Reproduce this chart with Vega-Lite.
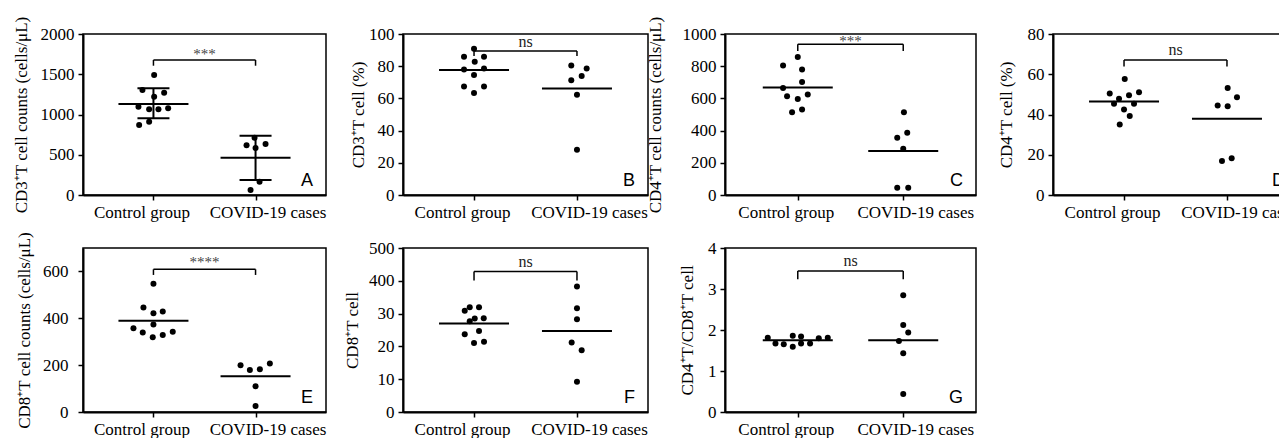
{
  "$schema": "https://vega.github.io/schema/vega-lite/v6.json",
  "padding": {"left": 11, "top": 15, "right": 0, "bottom": 0},
  "background": "white",
  "bounds": "flush",
  "columns": 4,
  "spacing": {"row": 53, "column": 77},
  "config": {
    "view": {"stroke": "black", "strokeWidth": 1.5},
    "axis": {"labelFont": "Liberation Serif", "labelFontSize": 17, "titleFont": "Liberation Serif", "titleFontSize": 17, "titleFontWeight": "normal", "labelColor": "black", "titleColor": "black", "domainColor": "black", "tickColor": "black", "domainWidth": 2, "tickWidth": 1.5, "tickSize": 5, "grid": false, "labelPadding": 4, "labelOverlap": false},
    "axisX": {"labelAngle": 0, "labelPadding": 4, "title": null},
    "axisY": {"format": "d", "labelOverlap": false, "tickCount": 12}
  },
  "datasets": {
    "pts": [
      {"p":"A","g":"Control group","v":1491,"j":0.7},{"p":"A","g":"Control group","v":1304,"j":-11},{"p":"A","g":"Control group","v":1271,"j":10.7},{"p":"A","g":"Control group","v":1221,"j":0.7},{"p":"A","g":"Control group","v":1097,"j":-15},{"p":"A","g":"Control group","v":1064,"j":-4.3},{"p":"A","g":"Control group","v":1064,"j":5},{"p":"A","g":"Control group","v":1077,"j":14.7},{"p":"A","g":"Control group","v":870,"j":-14.3},{"p":"A","g":"Control group","v":911,"j":-4.3},
      {"p":"A","g":"COVID-19 cases","v":617,"j":-9},{"p":"A","g":"COVID-19 cases","v":712,"j":-1},{"p":"A","g":"COVID-19 cases","v":584,"j":0},{"p":"A","g":"COVID-19 cases","v":634,"j":10},{"p":"A","g":"COVID-19 cases","v":166,"j":4},{"p":"A","g":"COVID-19 cases","v":62,"j":-5},
      {"p":"B","g":"Control group","v":90.8,"j":0},{"p":"B","g":"Control group","v":85.8,"j":-10},{"p":"B","g":"Control group","v":85.8,"j":10},{"p":"B","g":"Control group","v":82.8,"j":0.7},{"p":"B","g":"Control group","v":78.0,"j":-10},{"p":"B","g":"Control group","v":78.6,"j":10},{"p":"B","g":"Control group","v":74.5,"j":0},{"p":"B","g":"Control group","v":67.4,"j":-10},{"p":"B","g":"Control group","v":67.4,"j":10},{"p":"B","g":"Control group","v":63.4,"j":0},
      {"p":"B","g":"COVID-19 cases","v":80.5,"j":-5.7},{"p":"B","g":"COVID-19 cases","v":78.6,"j":9.7},{"p":"B","g":"COVID-19 cases","v":71.3,"j":-5.7},{"p":"B","g":"COVID-19 cases","v":73.9,"j":4.7},{"p":"B","g":"COVID-19 cases","v":62.2,"j":0},{"p":"B","g":"COVID-19 cases","v":28.1,"j":0},
      {"p":"C","g":"Control group","v":857,"j":0},{"p":"C","g":"Control group","v":804,"j":-14.7},{"p":"C","g":"Control group","v":779,"j":4.3},{"p":"C","g":"Control group","v":702,"j":4.3},{"p":"C","g":"Control group","v":665,"j":-14.7},{"p":"C","g":"Control group","v":614,"j":-10.7},{"p":"C","g":"Control group","v":597,"j":0},{"p":"C","g":"Control group","v":624,"j":10},{"p":"C","g":"Control group","v":514,"j":-5.7},{"p":"C","g":"Control group","v":531,"j":4.3},
      {"p":"C","g":"COVID-19 cases","v":514,"j":0.7},{"p":"C","g":"COVID-19 cases","v":386,"j":4},{"p":"C","g":"COVID-19 cases","v":355,"j":-6},{"p":"C","g":"COVID-19 cases","v":287,"j":0},{"p":"C","g":"COVID-19 cases","v":45,"j":-6},{"p":"C","g":"COVID-19 cases","v":45,"j":5},
      {"p":"D","g":"Control group","v":57.7,"j":0.7},{"p":"D","g":"Control group","v":50.4,"j":-14.3},{"p":"D","g":"Control group","v":51.1,"j":15},{"p":"D","g":"Control group","v":49.6,"j":5},{"p":"D","g":"Control group","v":47.8,"j":-5},{"p":"D","g":"Control group","v":45.3,"j":-10},{"p":"D","g":"Control group","v":45.3,"j":10},{"p":"D","g":"Control group","v":42.5,"j":0},{"p":"D","g":"Control group","v":39.2,"j":5.7},{"p":"D","g":"Control group","v":35.0,"j":-4.3},
      {"p":"D","g":"COVID-19 cases","v":53.2,"j":0.7},{"p":"D","g":"COVID-19 cases","v":48.6,"j":10},{"p":"D","g":"COVID-19 cases","v":44.5,"j":-9.3},{"p":"D","g":"COVID-19 cases","v":44.1,"j":0.7},{"p":"D","g":"COVID-19 cases","v":16.9,"j":-5},{"p":"D","g":"COVID-19 cases","v":18.2,"j":4.7},
      {"p":"E","g":"Control group","v":547,"j":0},{"p":"E","g":"Control group","v":446,"j":-10},{"p":"E","g":"Control group","v":421,"j":0},{"p":"E","g":"Control group","v":429,"j":9.3},{"p":"E","g":"Control group","v":374,"j":0},{"p":"E","g":"Control group","v":357,"j":-20},{"p":"E","g":"Control group","v":339,"j":-10.7},{"p":"E","g":"Control group","v":319,"j":-0.7},{"p":"E","g":"Control group","v":329,"j":9.3},{"p":"E","g":"Control group","v":343,"j":19.3},
      {"p":"E","g":"COVID-19 cases","v":200,"j":-15},{"p":"E","g":"COVID-19 cases","v":179,"j":-5.7},{"p":"E","g":"COVID-19 cases","v":183,"j":4.3},{"p":"E","g":"COVID-19 cases","v":207,"j":14.3},{"p":"E","g":"COVID-19 cases","v":110,"j":0},{"p":"E","g":"COVID-19 cases","v":26,"j":0},
      {"p":"F","g":"Control group","v":30.9,"j":-9.3},{"p":"F","g":"Control group","v":31.9,"j":-4.3},{"p":"F","g":"Control group","v":31.9,"j":5},{"p":"F","g":"Control group","v":28.5,"j":0.7},{"p":"F","g":"Control group","v":28.6,"j":9.7},{"p":"F","g":"Control group","v":27.7,"j":-4.3},{"p":"F","g":"Control group","v":24.7,"j":5},{"p":"F","g":"Control group","v":23.7,"j":-9.3},{"p":"F","g":"Control group","v":21.0,"j":0},{"p":"F","g":"Control group","v":21.4,"j":10},
      {"p":"F","g":"COVID-19 cases","v":38.3,"j":0},{"p":"F","g":"COVID-19 cases","v":31.6,"j":0},{"p":"F","g":"COVID-19 cases","v":28.3,"j":0},{"p":"F","g":"COVID-19 cases","v":21.2,"j":-5.3},{"p":"F","g":"COVID-19 cases","v":18.8,"j":4.7},{"p":"F","g":"COVID-19 cases","v":9.2,"j":0},
      {"p":"G","g":"Control group","v":1.81,"j":-30},{"p":"G","g":"Control group","v":1.67,"j":-22.3},{"p":"G","g":"Control group","v":1.65,"j":-14},{"p":"G","g":"Control group","v":1.86,"j":-5},{"p":"G","g":"Control group","v":1.59,"j":-5},{"p":"G","g":"Control group","v":1.84,"j":3.3},{"p":"G","g":"Control group","v":1.67,"j":3.3},{"p":"G","g":"Control group","v":1.67,"j":12.3},{"p":"G","g":"Control group","v":1.80,"j":21},{"p":"G","g":"Control group","v":1.81,"j":30},
      {"p":"G","g":"COVID-19 cases","v":2.85,"j":0},{"p":"G","g":"COVID-19 cases","v":2.12,"j":0},{"p":"G","g":"COVID-19 cases","v":1.94,"j":5},{"p":"G","g":"COVID-19 cases","v":1.73,"j":-4.3},{"p":"G","g":"COVID-19 cases","v":1.43,"j":0},{"p":"G","g":"COVID-19 cases","v":0.44,"j":0}
    ],
    "sum": [
      {"p":"A","g":"Control group","m":1130,"lo":952,"hi":1325},{"p":"A","g":"COVID-19 cases","m":464,"lo":186,"hi":737},
      {"p":"B","g":"Control group","m":77.6},{"p":"B","g":"COVID-19 cases","m":66.1},
      {"p":"C","g":"Control group","m":667},{"p":"C","g":"COVID-19 cases","m":273},
      {"p":"D","g":"Control group","m":46.4},{"p":"D","g":"COVID-19 cases","m":37.9},
      {"p":"E","g":"Control group","m":390},{"p":"E","g":"COVID-19 cases","m":153},
      {"p":"F","g":"Control group","m":27.0},{"p":"F","g":"COVID-19 cases","m":24.7},
      {"p":"G","g":"Control group","m":1.75},{"p":"G","g":"COVID-19 cases","m":1.75}
    ],
    "br": [
      {"p":"A","top":1677,"leg":1606,"lab":"***","ly":1690,"let":"A"},
      {"p":"B","top":89.5,"leg":86.4,"lab":"ns","ly":91.7,"let":"B"},
      {"p":"C","top":936,"leg":894,"lab":"***","ly":925,"let":"C"},
      {"p":"D","top":67.1,"leg":63.9,"lab":"ns","ly":69.6,"let":"D"},
      {"p":"E","top":609,"leg":585,"lab":"****","ly":619,"let":"E"},
      {"p":"F","top":42.8,"leg":40.1,"lab":"ns","ly":44.2,"let":"F"},
      {"p":"G","top":3.44,"leg":3.24,"lab":"ns","ly":3.55,"let":"G"}
    ]
  },
  "concat": [
    {
      "width": 243, "height": 161,
      "layer": [
        {"data": {"name": "pts"}, "transform": [{"filter": "datum.p==='A'"}], "mark": {"type": "circle", "size": 36, "color": "black", "opacity": 1},
         "encoding": {
           "x": {"field": "g", "type": "nominal", "scale": {"type": "point", "domain": ["Control group", "COVID-19 cases"], "padding": 0.69}, "axis": {"title": null, "labelOffset": {"condition": {"test": "datum.value==='Control group'", "value": -12}, "value": 12}}},
           "xOffset": {"field": "j", "type": "quantitative", "scale": {"domain": [-20, 20], "range": [-20, 20]}},
           "y": {"field": "v", "type": "quantitative", "scale": {"domain": [0, 2000], "nice": false}, "axis": {"title": "CD3⁺T cell counts (cells/μL)", "values": [0, 500, 1000, 1500, 2000], "tickCount": 12, "titlePadding": 9.5}}}},
        {"data": {"name": "sum"}, "transform": [{"filter": "datum.p==='A'"}], "mark": {"type": "tick", "size": 70, "thickness": 2, "color": "black", "opacity": 1}, "encoding": {"x": {"field": "g", "type": "nominal"}, "y": {"field": "m", "type": "quantitative"}}},
        {"data": {"name": "sum"}, "transform": [{"filter": "datum.p==='A'"}], "mark": {"type": "rule", "strokeWidth": 2, "color": "black"}, "encoding": {"x": {"field": "g", "type": "nominal"}, "y": {"field": "lo", "type": "quantitative"}, "y2": {"field": "hi"}}},
        {"data": {"name": "sum"}, "transform": [{"filter": "datum.p==='A'"}], "mark": {"type": "tick", "size": 32, "thickness": 2, "color": "black", "opacity": 1}, "encoding": {"x": {"field": "g", "type": "nominal"}, "y": {"field": "hi", "type": "quantitative"}}},
        {"data": {"name": "sum"}, "transform": [{"filter": "datum.p==='A'"}], "mark": {"type": "tick", "size": 32, "thickness": 2, "color": "black", "opacity": 1}, "encoding": {"x": {"field": "g", "type": "nominal"}, "y": {"field": "lo", "type": "quantitative"}}},
        {"data": {"name": "br"}, "transform": [{"filter": "datum.p==='A'"}], "mark": {"type": "rule", "strokeWidth": 1.5, "color": "black"}, "encoding": {"x": {"datum": "Control group"}, "x2": {"datum": "COVID-19 cases"}, "y": {"field": "top", "type": "quantitative"}}},
        {"data": {"name": "br"}, "transform": [{"filter": "datum.p==='A'"}], "mark": {"type": "rule", "strokeWidth": 1.5, "color": "black"}, "encoding": {"x": {"datum": "Control group"}, "y": {"field": "top", "type": "quantitative"}, "y2": {"field": "leg"}}},
        {"data": {"name": "br"}, "transform": [{"filter": "datum.p==='A'"}], "mark": {"type": "rule", "strokeWidth": 1.5, "color": "black"}, "encoding": {"x": {"datum": "COVID-19 cases"}, "y": {"field": "top", "type": "quantitative"}, "y2": {"field": "leg"}}},
        {"data": {"name": "br"}, "transform": [{"filter": "datum.p==='A'"}], "mark": {"type": "text", "font": "Liberation Serif", "fontSize": 15, "color": "#444", "baseline": "alphabetic"}, "encoding": {"y": {"field": "ly", "type": "quantitative"}, "text": {"field": "lab"}}},
        {"data": {"name": "br"}, "transform": [{"filter": "datum.p==='A'"}], "mark": {"type": "text", "font": "Liberation Sans", "fontSize": 18, "color": "black", "align": "right", "baseline": "alphabetic", "dx": -13, "dy": -9}, "encoding": {"x": {"value": "width"}, "y": {"value": "height"}, "text": {"field": "let"}}}
      ]
    },
    {
      "width": 245, "height": 161,
      "layer": [
        {"data": {"name": "pts"}, "transform": [{"filter": "datum.p==='B'"}], "mark": {"type": "circle", "size": 36, "color": "black", "opacity": 1},
         "encoding": {
           "x": {"field": "g", "type": "nominal", "scale": {"type": "point", "domain": ["Control group", "COVID-19 cases"], "padding": 0.69}, "axis": {"title": null, "labelOffset": {"condition": {"test": "datum.value==='Control group'", "value": -12}, "value": 12}}},
           "xOffset": {"field": "j", "type": "quantitative", "scale": {"domain": [-20, 20], "range": [-20, 20]}},
           "y": {"field": "v", "type": "quantitative", "scale": {"domain": [0, 100], "nice": false}, "axis": {"title": "CD3⁺T cell (%)", "values": [0, 20, 40, 60, 80, 100], "tickCount": 12, "titlePadding": 1}}}},
        {"data": {"name": "sum"}, "transform": [{"filter": "datum.p==='B'"}], "mark": {"type": "tick", "size": 70, "thickness": 2, "color": "black", "opacity": 1}, "encoding": {"x": {"field": "g", "type": "nominal"}, "y": {"field": "m", "type": "quantitative"}}},
        {"data": {"name": "br"}, "transform": [{"filter": "datum.p==='B'"}], "mark": {"type": "rule", "strokeWidth": 1.5, "color": "black"}, "encoding": {"x": {"datum": "Control group"}, "x2": {"datum": "COVID-19 cases"}, "y": {"field": "top", "type": "quantitative"}}},
        {"data": {"name": "br"}, "transform": [{"filter": "datum.p==='B'"}], "mark": {"type": "rule", "strokeWidth": 1.5, "color": "black"}, "encoding": {"x": {"datum": "Control group"}, "y": {"field": "top", "type": "quantitative"}, "y2": {"field": "leg"}}},
        {"data": {"name": "br"}, "transform": [{"filter": "datum.p==='B'"}], "mark": {"type": "rule", "strokeWidth": 1.5, "color": "black"}, "encoding": {"x": {"datum": "COVID-19 cases"}, "y": {"field": "top", "type": "quantitative"}, "y2": {"field": "leg"}}},
        {"data": {"name": "br"}, "transform": [{"filter": "datum.p==='B'"}], "mark": {"type": "text", "font": "Liberation Serif", "fontSize": 16, "color": "#222", "baseline": "alphabetic"}, "encoding": {"y": {"field": "ly", "type": "quantitative"}, "text": {"field": "lab"}}},
        {"data": {"name": "br"}, "transform": [{"filter": "datum.p==='B'"}], "mark": {"type": "text", "font": "Liberation Sans", "fontSize": 18, "color": "black", "align": "right", "baseline": "alphabetic", "dx": -13, "dy": -9}, "encoding": {"x": {"value": "width"}, "y": {"value": "height"}, "text": {"field": "let"}}}
      ]
    },
    {
      "width": 251, "height": 161,
      "layer": [
        {"data": {"name": "pts"}, "transform": [{"filter": "datum.p==='C'"}], "mark": {"type": "circle", "size": 36, "color": "black", "opacity": 1},
         "encoding": {
           "x": {"field": "g", "type": "nominal", "scale": {"type": "point", "domain": ["Control group", "COVID-19 cases"], "padding": 0.69}, "axis": {"title": null, "labelOffset": {"condition": {"test": "datum.value==='Control group'", "value": -12}, "value": 12}}},
           "xOffset": {"field": "j", "type": "quantitative", "scale": {"domain": [-20, 20], "range": [-20, 20]}},
           "y": {"field": "v", "type": "quantitative", "scale": {"domain": [0, 1000], "nice": false}, "axis": {"title": "CD4⁺T cell counts (cells/μL)", "values": [0, 200, 400, 600, 800, 1000], "tickCount": 12, "titlePadding": 17.5}}}},
        {"data": {"name": "sum"}, "transform": [{"filter": "datum.p==='C'"}], "mark": {"type": "tick", "size": 70, "thickness": 2, "color": "black", "opacity": 1}, "encoding": {"x": {"field": "g", "type": "nominal"}, "y": {"field": "m", "type": "quantitative"}}},
        {"data": {"name": "br"}, "transform": [{"filter": "datum.p==='C'"}], "mark": {"type": "rule", "strokeWidth": 1.5, "color": "black"}, "encoding": {"x": {"datum": "Control group"}, "x2": {"datum": "COVID-19 cases"}, "y": {"field": "top", "type": "quantitative"}}},
        {"data": {"name": "br"}, "transform": [{"filter": "datum.p==='C'"}], "mark": {"type": "rule", "strokeWidth": 1.5, "color": "black"}, "encoding": {"x": {"datum": "Control group"}, "y": {"field": "top", "type": "quantitative"}, "y2": {"field": "leg"}}},
        {"data": {"name": "br"}, "transform": [{"filter": "datum.p==='C'"}], "mark": {"type": "rule", "strokeWidth": 1.5, "color": "black"}, "encoding": {"x": {"datum": "COVID-19 cases"}, "y": {"field": "top", "type": "quantitative"}, "y2": {"field": "leg"}}},
        {"data": {"name": "br"}, "transform": [{"filter": "datum.p==='C'"}], "mark": {"type": "text", "font": "Liberation Serif", "fontSize": 15, "color": "#444", "baseline": "alphabetic"}, "encoding": {"y": {"field": "ly", "type": "quantitative"}, "text": {"field": "lab"}}},
        {"data": {"name": "br"}, "transform": [{"filter": "datum.p==='C'"}], "mark": {"type": "text", "font": "Liberation Sans", "fontSize": 18, "color": "black", "align": "right", "baseline": "alphabetic", "dx": -13, "dy": -9}, "encoding": {"x": {"value": "width"}, "y": {"value": "height"}, "text": {"field": "let"}}}
      ]
    },
    {
      "width": 245, "height": 161,
      "layer": [
        {"data": {"name": "pts"}, "transform": [{"filter": "datum.p==='D'"}], "mark": {"type": "circle", "size": 36, "color": "black", "opacity": 1},
         "encoding": {
           "x": {"field": "g", "type": "nominal", "scale": {"type": "point", "domain": ["Control group", "COVID-19 cases"], "padding": 0.69}, "axis": {"title": null, "labelOffset": {"condition": {"test": "datum.value==='Control group'", "value": -12}, "value": 12}}},
           "xOffset": {"field": "j", "type": "quantitative", "scale": {"domain": [-20, 20], "range": [-20, 20]}},
           "y": {"field": "v", "type": "quantitative", "scale": {"domain": [0, 80], "nice": false}, "axis": {"title": "CD4⁺T cell (%)", "values": [0, 20, 40, 60, 80], "tickCount": 12, "titlePadding": 11.5}}}},
        {"data": {"name": "sum"}, "transform": [{"filter": "datum.p==='D'"}], "mark": {"type": "tick", "size": 70, "thickness": 2, "color": "black", "opacity": 1}, "encoding": {"x": {"field": "g", "type": "nominal"}, "y": {"field": "m", "type": "quantitative"}}},
        {"data": {"name": "br"}, "transform": [{"filter": "datum.p==='D'"}], "mark": {"type": "rule", "strokeWidth": 1.5, "color": "black"}, "encoding": {"x": {"datum": "Control group"}, "x2": {"datum": "COVID-19 cases"}, "y": {"field": "top", "type": "quantitative"}}},
        {"data": {"name": "br"}, "transform": [{"filter": "datum.p==='D'"}], "mark": {"type": "rule", "strokeWidth": 1.5, "color": "black"}, "encoding": {"x": {"datum": "Control group"}, "y": {"field": "top", "type": "quantitative"}, "y2": {"field": "leg"}}},
        {"data": {"name": "br"}, "transform": [{"filter": "datum.p==='D'"}], "mark": {"type": "rule", "strokeWidth": 1.5, "color": "black"}, "encoding": {"x": {"datum": "COVID-19 cases"}, "y": {"field": "top", "type": "quantitative"}, "y2": {"field": "leg"}}},
        {"data": {"name": "br"}, "transform": [{"filter": "datum.p==='D'"}], "mark": {"type": "text", "font": "Liberation Serif", "fontSize": 16, "color": "#222", "baseline": "alphabetic"}, "encoding": {"y": {"field": "ly", "type": "quantitative"}, "text": {"field": "lab"}}},
        {"data": {"name": "br"}, "transform": [{"filter": "datum.p==='D'"}], "mark": {"type": "text", "font": "Liberation Sans", "fontSize": 18, "color": "black", "align": "right", "baseline": "alphabetic", "dx": -13, "dy": -9}, "encoding": {"x": {"value": "width"}, "y": {"value": "height"}, "text": {"field": "let"}}}
      ]
    },
    {
      "width": 243, "height": 164,
      "layer": [
        {"data": {"name": "pts"}, "transform": [{"filter": "datum.p==='E'"}], "mark": {"type": "circle", "size": 36, "color": "black", "opacity": 1},
         "encoding": {
           "x": {"field": "g", "type": "nominal", "scale": {"type": "point", "domain": ["Control group", "COVID-19 cases"], "padding": 0.69}, "axis": {"title": null, "labelOffset": {"condition": {"test": "datum.value==='Control group'", "value": -12}, "value": 12}}},
           "xOffset": {"field": "j", "type": "quantitative", "scale": {"domain": [-20, 20], "range": [-20, 20]}},
           "y": {"field": "v", "type": "quantitative", "scale": {"domain": [0, 700], "nice": false}, "axis": {"title": "CD8⁺T cell counts (cells/μL)", "values": [0, 200, 400, 600], "tickCount": 12, "titlePadding": 9, "labelPadding": 10}}}},
        {"data": {"name": "sum"}, "transform": [{"filter": "datum.p==='E'"}], "mark": {"type": "tick", "size": 70, "thickness": 2, "color": "black", "opacity": 1}, "encoding": {"x": {"field": "g", "type": "nominal"}, "y": {"field": "m", "type": "quantitative"}}},
        {"data": {"name": "br"}, "transform": [{"filter": "datum.p==='E'"}], "mark": {"type": "rule", "strokeWidth": 1.5, "color": "black"}, "encoding": {"x": {"datum": "Control group"}, "x2": {"datum": "COVID-19 cases"}, "y": {"field": "top", "type": "quantitative"}}},
        {"data": {"name": "br"}, "transform": [{"filter": "datum.p==='E'"}], "mark": {"type": "rule", "strokeWidth": 1.5, "color": "black"}, "encoding": {"x": {"datum": "Control group"}, "y": {"field": "top", "type": "quantitative"}, "y2": {"field": "leg"}}},
        {"data": {"name": "br"}, "transform": [{"filter": "datum.p==='E'"}], "mark": {"type": "rule", "strokeWidth": 1.5, "color": "black"}, "encoding": {"x": {"datum": "COVID-19 cases"}, "y": {"field": "top", "type": "quantitative"}, "y2": {"field": "leg"}}},
        {"data": {"name": "br"}, "transform": [{"filter": "datum.p==='E'"}], "mark": {"type": "text", "font": "Liberation Serif", "fontSize": 15, "color": "#444", "baseline": "alphabetic"}, "encoding": {"y": {"field": "ly", "type": "quantitative"}, "text": {"field": "lab"}}},
        {"data": {"name": "br"}, "transform": [{"filter": "datum.p==='E'"}], "mark": {"type": "text", "font": "Liberation Sans", "fontSize": 18, "color": "black", "align": "right", "baseline": "alphabetic", "dx": -13, "dy": -9}, "encoding": {"x": {"value": "width"}, "y": {"value": "height"}, "text": {"field": "let"}}}
      ]
    },
    {
      "width": 245, "height": 164,
      "layer": [
        {"data": {"name": "pts"}, "transform": [{"filter": "datum.p==='F'"}], "mark": {"type": "circle", "size": 36, "color": "black", "opacity": 1},
         "encoding": {
           "x": {"field": "g", "type": "nominal", "scale": {"type": "point", "domain": ["Control group", "COVID-19 cases"], "padding": 0.69}, "axis": {"title": null, "labelOffset": {"condition": {"test": "datum.value==='Control group'", "value": -12}, "value": 12}}},
           "xOffset": {"field": "j", "type": "quantitative", "scale": {"domain": [-20, 20], "range": [-20, 20]}},
           "y": {"field": "v", "type": "quantitative", "scale": {"domain": [0, 50], "nice": false}, "axis": {"title": "CD8⁺T cell", "values": [0, 10, 20, 30, 40, 50], "tickCount": 12, "labelExpr": "datum.value == 40 ? '400' : datum.value == 50 ? '500' : datum.label", "titlePadding": 7}}}},
        {"data": {"name": "sum"}, "transform": [{"filter": "datum.p==='F'"}], "mark": {"type": "tick", "size": 70, "thickness": 2, "color": "black", "opacity": 1}, "encoding": {"x": {"field": "g", "type": "nominal"}, "y": {"field": "m", "type": "quantitative"}}},
        {"data": {"name": "br"}, "transform": [{"filter": "datum.p==='F'"}], "mark": {"type": "rule", "strokeWidth": 1.5, "color": "black"}, "encoding": {"x": {"datum": "Control group"}, "x2": {"datum": "COVID-19 cases"}, "y": {"field": "top", "type": "quantitative"}}},
        {"data": {"name": "br"}, "transform": [{"filter": "datum.p==='F'"}], "mark": {"type": "rule", "strokeWidth": 1.5, "color": "black"}, "encoding": {"x": {"datum": "Control group"}, "y": {"field": "top", "type": "quantitative"}, "y2": {"field": "leg"}}},
        {"data": {"name": "br"}, "transform": [{"filter": "datum.p==='F'"}], "mark": {"type": "rule", "strokeWidth": 1.5, "color": "black"}, "encoding": {"x": {"datum": "COVID-19 cases"}, "y": {"field": "top", "type": "quantitative"}, "y2": {"field": "leg"}}},
        {"data": {"name": "br"}, "transform": [{"filter": "datum.p==='F'"}], "mark": {"type": "text", "font": "Liberation Serif", "fontSize": 16, "color": "#222", "baseline": "alphabetic"}, "encoding": {"y": {"field": "ly", "type": "quantitative"}, "text": {"field": "lab"}}},
        {"data": {"name": "br"}, "transform": [{"filter": "datum.p==='F'"}], "mark": {"type": "text", "font": "Liberation Sans", "fontSize": 18, "color": "black", "align": "right", "baseline": "alphabetic", "dx": -13, "dy": -9}, "encoding": {"x": {"value": "width"}, "y": {"value": "height"}, "text": {"field": "let"}}}
      ]
    },
    {
      "width": 251, "height": 164,
      "layer": [
        {"data": {"name": "pts"}, "transform": [{"filter": "datum.p==='G'"}], "mark": {"type": "circle", "size": 36, "color": "black", "opacity": 1},
         "encoding": {
           "x": {"field": "g", "type": "nominal", "scale": {"type": "point", "domain": ["Control group", "COVID-19 cases"], "padding": 0.69}, "axis": {"title": null, "labelOffset": {"condition": {"test": "datum.value==='Control group'", "value": -12}, "value": 12}}},
           "xOffset": {"field": "j", "type": "quantitative", "scale": {"domain": [-20, 20], "range": [-20, 20]}},
           "y": {"field": "v", "type": "quantitative", "scale": {"domain": [0, 4], "nice": false}, "axis": {"title": "CD4⁺T/CD8⁺T cell", "values": [0, 1, 2, 3, 4], "tickCount": 12, "titlePadding": 11}}}},
        {"data": {"name": "sum"}, "transform": [{"filter": "datum.p==='G'"}], "mark": {"type": "tick", "size": 70, "thickness": 2, "color": "black", "opacity": 1}, "encoding": {"x": {"field": "g", "type": "nominal"}, "y": {"field": "m", "type": "quantitative"}}},
        {"data": {"name": "br"}, "transform": [{"filter": "datum.p==='G'"}], "mark": {"type": "rule", "strokeWidth": 1.5, "color": "black"}, "encoding": {"x": {"datum": "Control group"}, "x2": {"datum": "COVID-19 cases"}, "y": {"field": "top", "type": "quantitative"}}},
        {"data": {"name": "br"}, "transform": [{"filter": "datum.p==='G'"}], "mark": {"type": "rule", "strokeWidth": 1.5, "color": "black"}, "encoding": {"x": {"datum": "Control group"}, "y": {"field": "top", "type": "quantitative"}, "y2": {"field": "leg"}}},
        {"data": {"name": "br"}, "transform": [{"filter": "datum.p==='G'"}], "mark": {"type": "rule", "strokeWidth": 1.5, "color": "black"}, "encoding": {"x": {"datum": "COVID-19 cases"}, "y": {"field": "top", "type": "quantitative"}, "y2": {"field": "leg"}}},
        {"data": {"name": "br"}, "transform": [{"filter": "datum.p==='G'"}], "mark": {"type": "text", "font": "Liberation Serif", "fontSize": 16, "color": "#222", "baseline": "alphabetic"}, "encoding": {"y": {"field": "ly", "type": "quantitative"}, "text": {"field": "lab"}}},
        {"data": {"name": "br"}, "transform": [{"filter": "datum.p==='G'"}], "mark": {"type": "text", "font": "Liberation Sans", "fontSize": 18, "color": "black", "align": "right", "baseline": "alphabetic", "dx": -13, "dy": -9}, "encoding": {"x": {"value": "width"}, "y": {"value": "height"}, "text": {"field": "let"}}}
      ]
    }
  ]
}
